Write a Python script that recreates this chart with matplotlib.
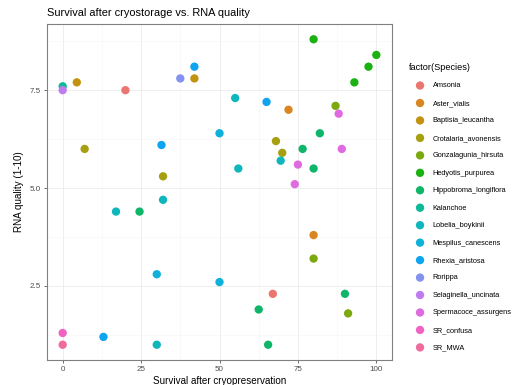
import numpy as np
import matplotlib
matplotlib.use("Agg")
import matplotlib.pyplot as plt

plt.rcParams['font.family'] = ['Liberation Sans', 'DejaVu Sans']

species = ["Amsonia", "Aster_vialis", "Baptisia_leucantha", "Crotalaria_avonensis",
           "Gonzalagunia_hirsuta", "Hedyotis_purpurea", "Hippobroma_longiflora",
           "Kalanchoe", "Lobelia_boykinii", "Mespilus_canescens", "Rhexia_aristosa",
           "Rorippa", "Selaginella_uncinata", "Spermacoce_assurgens", "SR_confusa", "SR_MWA"]

# survival (%) and RNA quality per species
survival = {
    "Amsonia": [20, 67],
    "Aster_vialis": [72, 80],
    "Baptisia_leucantha": [4.5, 42],
    "Crotalaria_avonensis": [7, 32, 68, 70],
    "Gonzalagunia_hirsuta": [87, 80, 91],
    "Hedyotis_purpurea": [80, 100, 97.5, 93],
    "Hippobroma_longiflora": [82, 76.5, 80, 24.5, 90, 62.5, 65.5],
    "Kalanchoe": [0],
    "Lobelia_boykinii": [55, 69.5, 56, 32, 17, 30],
    "Mespilus_canescens": [50, 30, 50],
    "Rhexia_aristosa": [42, 65, 31.5, 13],
    "Rorippa": [37.5],
    "Selaginella_uncinata": [0],
    "Spermacoce_assurgens": [88, 89, 75, 74],
    "SR_confusa": [0],
    "SR_MWA": [0],
}
rna = {
    "Amsonia": [7.5, 2.3],
    "Aster_vialis": [7.0, 3.8],
    "Baptisia_leucantha": [7.7, 7.8],
    "Crotalaria_avonensis": [6.0, 5.3, 6.2, 5.9],
    "Gonzalagunia_hirsuta": [7.1, 3.2, 1.8],
    "Hedyotis_purpurea": [8.8, 8.4, 8.1, 7.7],
    "Hippobroma_longiflora": [6.4, 6.0, 5.5, 4.4, 2.3, 1.9, 1.0],
    "Kalanchoe": [7.6],
    "Lobelia_boykinii": [7.3, 5.7, 5.5, 4.7, 4.4, 1.0],
    "Mespilus_canescens": [6.4, 2.8, 2.6],
    "Rhexia_aristosa": [8.1, 7.2, 6.1, 1.2],
    "Rorippa": [7.8],
    "Selaginella_uncinata": [7.5],
    "Spermacoce_assurgens": [6.9, 6.0, 5.6, 5.1],
    "SR_confusa": [1.3],
    "SR_MWA": [1.0],
}


def hue_pal(n, l=65, c=100):
    # ggplot2 default discrete palette (polar LUV -> sRGB)
    hues = np.radians(np.linspace(15, 375, n + 1)[:-1])
    Y = ((l + 16) / 116) ** 3
    un, vn = 0.19784, 0.46834
    M = np.array([[3.2404542, -1.5371385, -0.4985314],
                  [-0.9692660, 1.8760108, 0.0415560],
                  [0.0556434, -0.2040259, 1.0572252]])
    cols = []
    for h in hues:
        up = c * np.cos(h) / (13 * l) + un
        vp = c * np.sin(h) / (13 * l) + vn
        X = Y * 9 * up / (4 * vp)
        Z = Y * (12 - 3 * up - 20 * vp) / (4 * vp)
        lin = M @ np.array([X, Y, Z])
        rgb = np.where(lin <= 0.0031308, 12.92 * lin, 1.055 * np.abs(lin) ** (1 / 2.4) - 0.055)
        rgb = np.clip(rgb, 0, 1)
        # the reference looks a little washed out
        rgb = 0.88 * rgb + 0.12 * 0.5
        cols.append(tuple(rgb))
    return cols


colors = hue_pal(len(species))

fig = plt.figure(figsize=(5.26, 3.85), dpi=100)
ax = fig.add_axes([47 / 526, 1 - 360 / 385, (392 - 47) / 526, (360 - 24) / 385])

for sp, col in zip(species, colors):
    ax.scatter(survival[sp], rna[sp], s=36, color=col, edgecolors='none', label=sp, zorder=3)

ax.set_xlim(-5, 105)
ax.set_ylim(0.61, 9.19)
ax.set_xticks([0, 25, 50, 75, 100])
ax.set_xticks([12.5, 37.5, 62.5, 87.5], minor=True)
ax.set_yticks([2.5, 5.0, 7.5])
ax.set_yticklabels(["2.5", "5.0", "7.5"])
ax.set_yticks([1.25, 3.75, 6.25, 8.75], minor=True)
ax.grid(which='major', color='#EBEBEB', lw=0.6, zorder=0)
ax.grid(which='minor', color='#F5F5F5', lw=0.4, zorder=0)
ax.set_axisbelow(True)
for s in ax.spines.values():
    s.set_color('#808080')
    s.set_linewidth(0.8)
ax.tick_params(which='major', length=2.5, width=0.5, color='#333333', labelsize=5.8,
               labelcolor='#4D4D4D', pad=2)
ax.tick_params(which='minor', length=0)

ax.set_xlabel("Survival after cryopreservation", fontsize=7.1, labelpad=2)
ax.set_ylabel("RNA quality (1-10)", fontsize=7.1, labelpad=4)
ax.set_title("Survival after cryostorage vs. RNA quality", fontsize=7.9, loc='left', pad=6)

leg = ax.legend(loc='upper left', bbox_to_anchor=(409 / 526, 1 - 63 / 385),
                bbox_transform=fig.transFigure, frameon=False, fontsize=5.3,
                title="factor(Species)", title_fontsize=6.6, alignment='left',
                labelspacing=1.4, handletextpad=0.2, handlelength=3.0, markerscale=1.0,
                borderaxespad=0, borderpad=0)

fig.savefig("out.png", dpi=100)
